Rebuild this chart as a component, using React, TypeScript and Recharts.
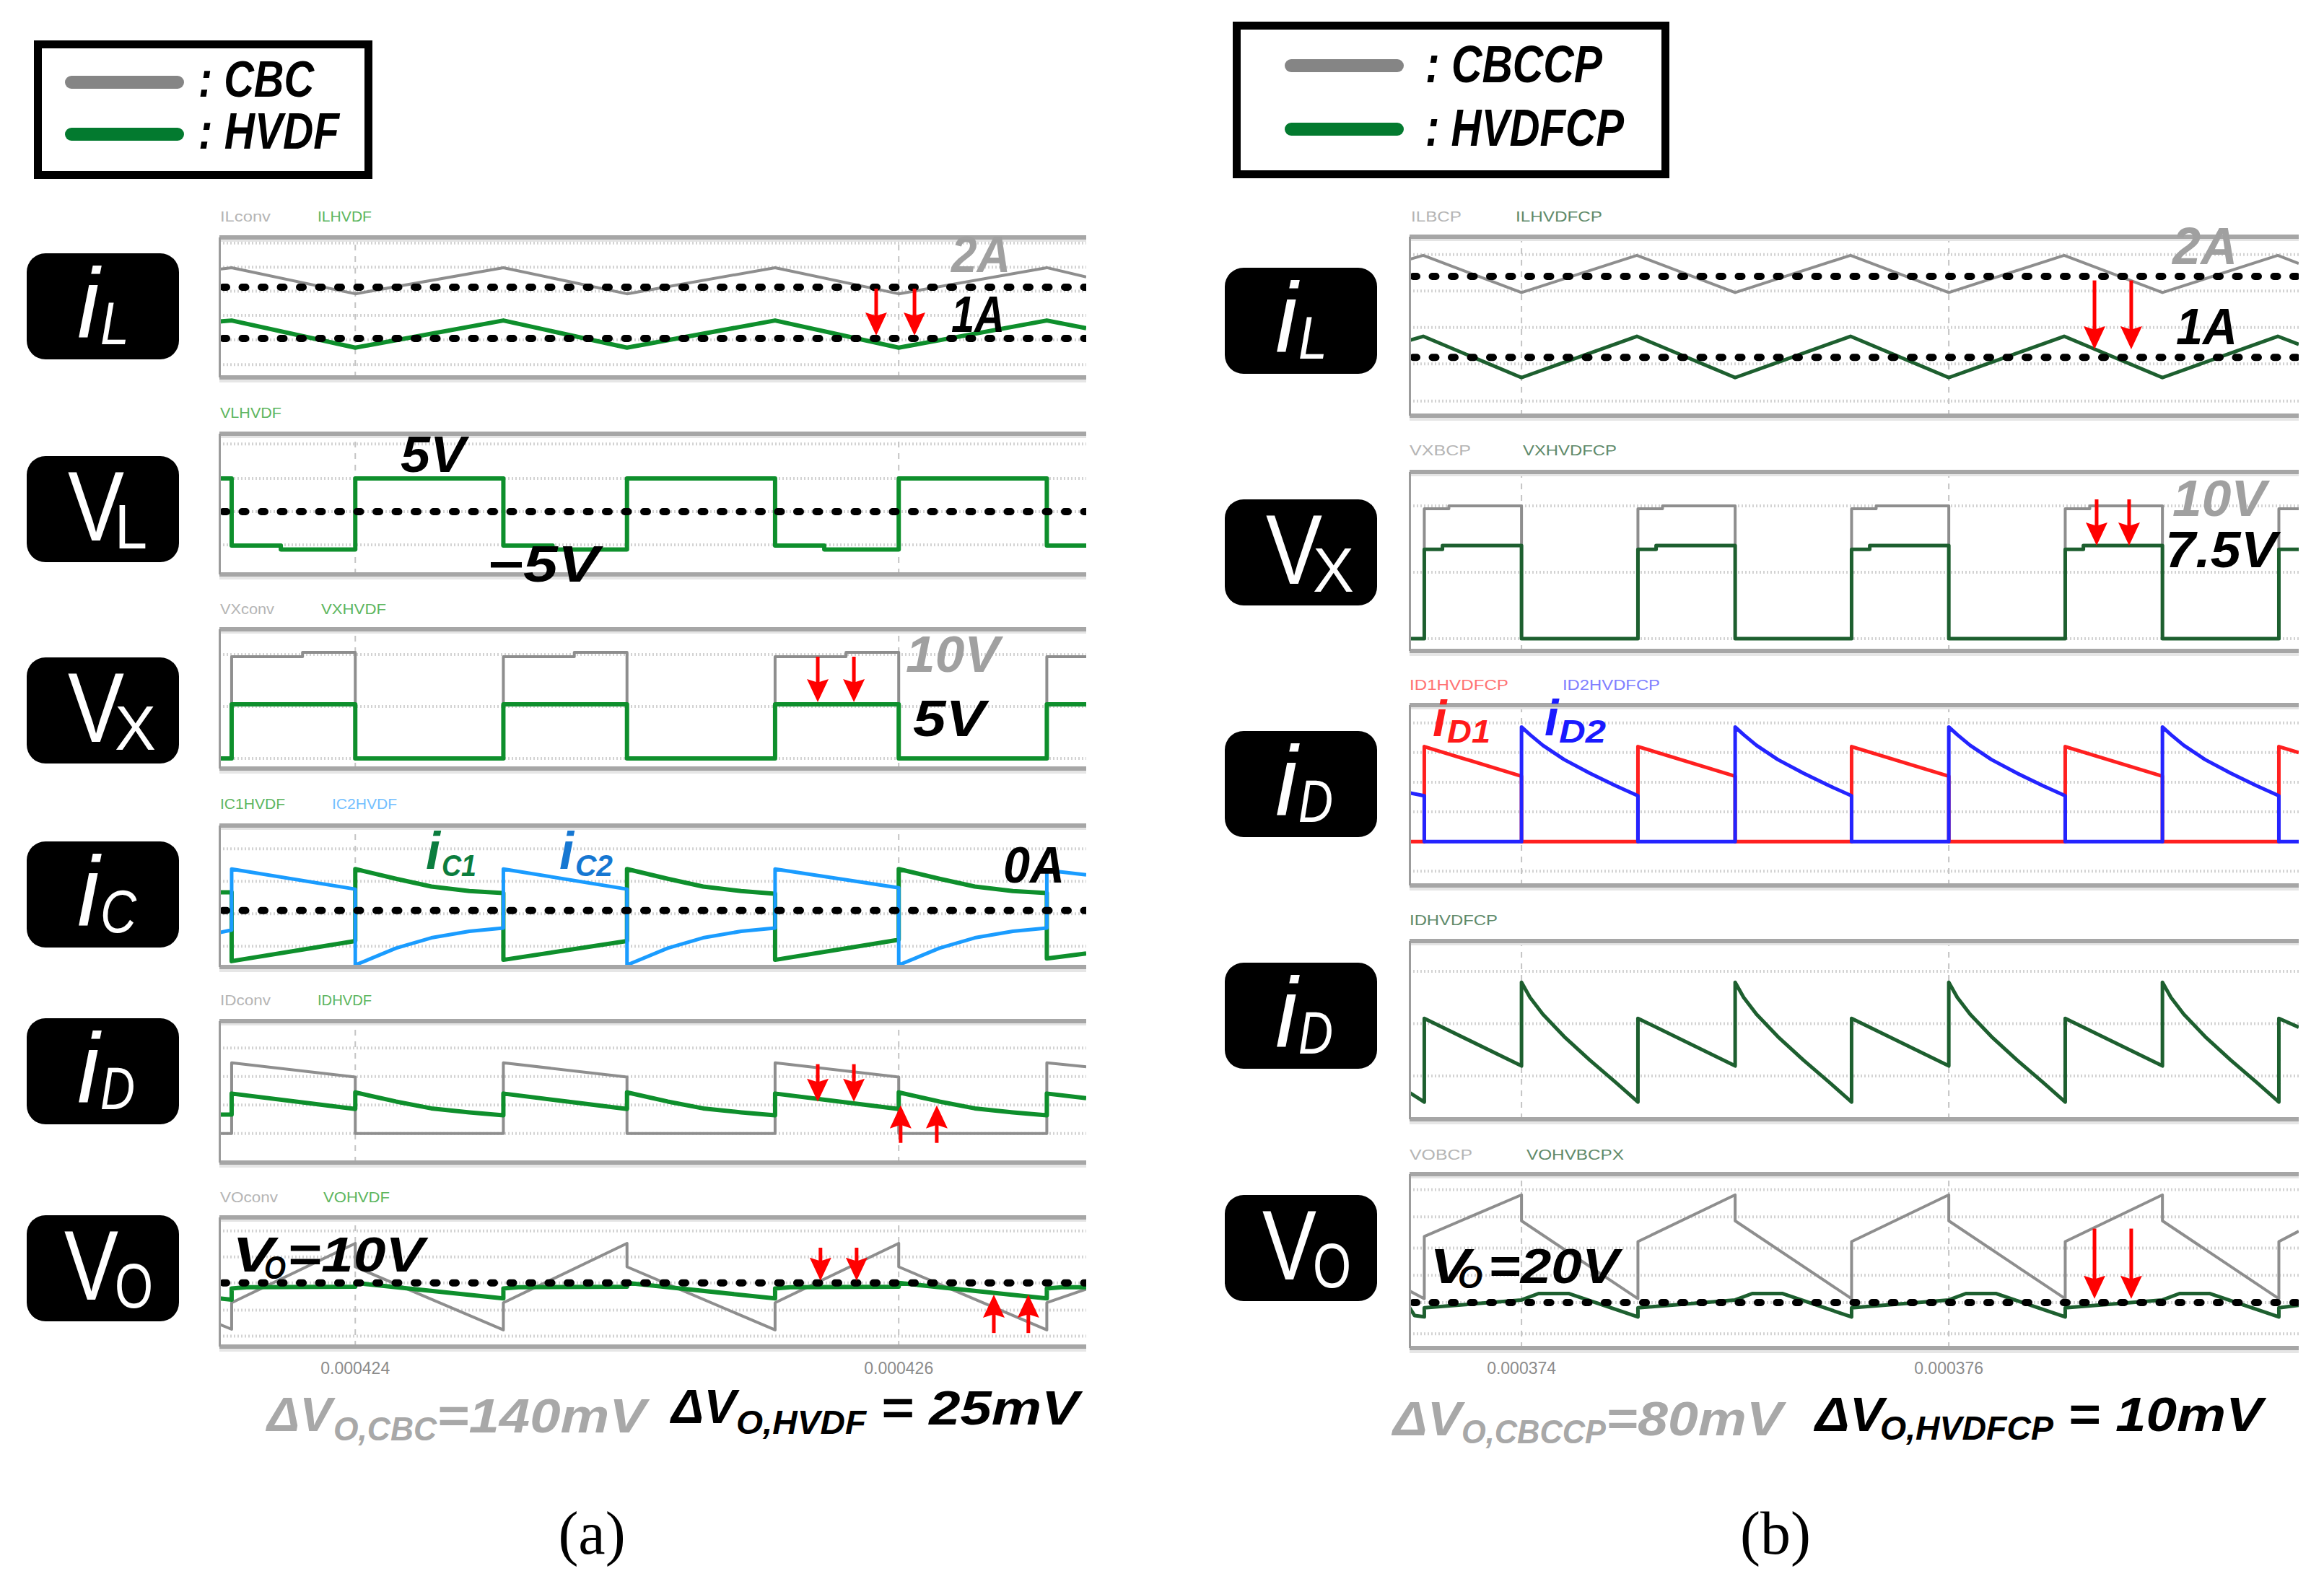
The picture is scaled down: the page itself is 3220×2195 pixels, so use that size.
import React from "react";
import { LineChart, Line, XAxis, YAxis, ReferenceLine } from "recharts";

type Pt = [number, number];

// ---------- time axes (µs) ----------
const timeA: [number, number] = [423.5, 426.69];
const timeB: [number, number] = [373.476, 377.638];
const ticksA = [424, 426];
const tickLabelsA = ["0.000424", "0.000426"];
const ticksB = [374, 376];
const tickLabelsB = ["0.000374", "0.000376"];

// ---------- (a) CBC vs HVDF ----------
const aIlCbc: Pt[] = [[423.5, 2.35], [423.545, 2.38], [424, 1.87], [424.545, 2.38], [425, 1.87], [425.545, 2.38], [426, 1.87], [426.545, 2.38], [426.69, 2.2]];
const aIlHvdf: Pt[] = [[423.5, 1.33], [423.545, 1.35], [424, 0.82], [424.545, 1.35], [425, 0.82], [425.545, 1.35], [426, 0.82], [426.545, 1.35], [426.69, 1.2]];

const aVlHvdf: Pt[] = [
  [423.5, 5], [423.545, 5], [423.545, -5.1], [423.726, -5.1], [423.726, -5.7], [424, -5.7],
  [424, 5], [424.545, 5], [424.545, -5.1], [424.726, -5.1], [424.726, -5.7], [425, -5.7],
  [425, 5], [425.545, 5], [425.545, -5.1], [425.726, -5.1], [425.726, -5.7], [426, -5.7],
  [426, 5], [426.545, 5], [426.545, -5.1], [426.69, -5.1],
];

const aVxCbc: Pt[] = [
  [423.5, 0], [423.545, 0], [423.545, 9.4], [423.806, 9.4], [423.806, 9.8], [424, 9.8],
  [424, 0], [424.545, 0], [424.545, 9.4], [424.806, 9.4], [424.806, 9.8], [425, 9.8],
  [425, 0], [425.545, 0], [425.545, 9.4], [425.806, 9.4], [425.806, 9.8], [426, 9.8],
  [426, 0], [426.545, 0], [426.545, 9.4], [426.69, 9.4],
];
const aVxHvdf: Pt[] = [
  [423.5, 0], [423.545, 0], [423.545, 5], [424, 5], [424, 0], [424.545, 0], [424.545, 5], [425, 5],
  [425, 0], [425.545, 0], [425.545, 5], [426, 5], [426, 0], [426.545, 0], [426.545, 5], [426.69, 5],
];

const aIc1: Pt[] = [
  [423.5, 0.28], [423.545, 0.28], [423.545, -0.78], [424, -0.47],
  [424, 0.64], [424.15, 0.49], [424.28, 0.37], [424.42, 0.3], [424.545, 0.27], [424.545, -0.76], [425, -0.47],
  [425, 0.64], [425.15, 0.49], [425.28, 0.37], [425.42, 0.3], [425.545, 0.26], [425.545, -0.76], [426, -0.45],
  [426, 0.64], [426.15, 0.49], [426.28, 0.37], [426.42, 0.3], [426.545, 0.27], [426.545, -0.74], [426.69, -0.66],
];
const aIc2: Pt[] = [
  [423.5, -0.34], [423.545, -0.3], [423.545, 0.64], [424, 0.33],
  [424, -0.84], [424.15, -0.58], [424.28, -0.42], [424.42, -0.32], [424.545, -0.27], [424.545, 0.64], [425, 0.33],
  [425, -0.84], [425.15, -0.58], [425.28, -0.42], [425.42, -0.32], [425.545, -0.27], [425.545, 0.64], [426, 0.35],
  [426, -0.84], [426.15, -0.58], [426.28, -0.42], [426.42, -0.32], [426.545, -0.27], [426.545, 0.62], [426.69, 0.55],
];

const aIdCbc: Pt[] = [
  [423.5, 0], [423.545, 0], [423.545, 1.24], [424, 0.99], [424, 0], [424.545, 0], [424.545, 1.24], [425, 0.99],
  [425, 0], [425.545, 0], [425.545, 1.24], [426, 0.99], [426, 0], [426.545, 0], [426.545, 1.24], [426.69, 1.17],
];
const aIdHvdf: Pt[] = [
  [423.5, 0.33], [423.545, 0.33], [423.545, 0.7], [424, 0.43],
  [424, 0.72], [424.15, 0.56], [424.28, 0.44], [424.42, 0.37], [424.545, 0.32], [424.545, 0.7], [425, 0.43],
  [425, 0.72], [425.15, 0.56], [425.28, 0.44], [425.42, 0.37], [425.545, 0.32], [425.545, 0.7], [426, 0.43],
  [426, 0.72], [426.15, 0.56], [426.28, 0.44], [426.42, 0.37], [426.545, 0.32], [426.545, 0.7], [426.69, 0.62],
];

const aVoCbc: Pt[] = [
  [423.5, 9.933], [423.545, 9.925], [423.545, 9.968], [424, 10.064], [424, 10.026], [424.545, 9.924],
  [424.545, 9.968], [425, 10.064], [425, 10.026], [425.545, 9.924], [425.545, 9.968], [426, 10.064],
  [426, 10.026], [426.545, 9.924], [426.545, 9.968], [426.69, 9.99],
];
const aVoHvdf: Pt[] = [
  [423.5, 9.975], [423.545, 9.973], [423.545, 9.991], [423.6, 9.993], [424, 9.994], [424, 10.0], [424.545, 9.975],
  [424.545, 9.991], [424.6, 9.993], [425, 9.994], [425, 10.0], [425.545, 9.975],
  [425.545, 9.991], [425.6, 9.993], [426, 9.994], [426, 10.0], [426.545, 9.975],
  [426.545, 9.991], [426.6, 9.993], [426.69, 9.993],
];

// ---------- (b) CBCCP vs HVDFCP ----------
const bIlCbc: Pt[] = [[373.476, 2.21], [373.54, 2.26], [374, 1.8], [374.54, 2.26], [375, 1.8], [375.54, 2.26], [376, 1.8], [376.54, 2.26], [377, 1.8], [377.54, 2.26], [377.638, 2.16]];
const bIlHvdf: Pt[] = [[373.476, 1.21], [373.54, 1.26], [374, 0.75], [374.54, 1.26], [375, 0.75], [375.54, 1.26], [376, 0.75], [376.54, 1.26], [377, 0.75], [377.54, 1.26], [377.638, 1.16]];

const bVxCbc: Pt[] = [
  [373.476, 0], [373.545, 0], [373.545, 10.47], [373.66, 10.47], [373.66, 10.7], [374, 10.7],
  [374, 0], [374.545, 0], [374.545, 10.47], [374.66, 10.47], [374.66, 10.7], [375, 10.7],
  [375, 0], [375.545, 0], [375.545, 10.47], [375.66, 10.47], [375.66, 10.7], [376, 10.7],
  [376, 0], [376.545, 0], [376.545, 10.47], [376.66, 10.47], [376.66, 10.7], [377, 10.7],
  [377, 0], [377.545, 0], [377.545, 10.47], [377.638, 10.47],
];
const bVxHvdf: Pt[] = [
  [373.476, 0], [373.545, 0], [373.545, 7.2], [373.63, 7.2], [373.63, 7.5], [374, 7.5],
  [374, 0], [374.545, 0], [374.545, 7.2], [374.63, 7.2], [374.63, 7.5], [375, 7.5],
  [375, 0], [375.545, 0], [375.545, 7.2], [375.63, 7.2], [375.63, 7.5], [376, 7.5],
  [376, 0], [376.545, 0], [376.545, 7.2], [376.63, 7.2], [376.63, 7.5], [377, 7.5],
  [377, 0], [377.545, 0], [377.545, 7.2], [377.638, 7.2],
];

const bId1: Pt[] = [
  [373.476, 0], [373.545, 0], [373.545, 1.6], [374, 1.1], [374, 0], [374.545, 0], [374.545, 1.6], [375, 1.1],
  [375, 0], [375.545, 0], [375.545, 1.6], [376, 1.1], [376, 0], [376.545, 0], [376.545, 1.6], [377, 1.1],
  [377, 0], [377.545, 0], [377.545, 1.6], [377.638, 1.5],
];
const bId2: Pt[] = [
  [373.476, 0.82], [373.545, 0.77], [373.545, 0], [374, 0],
  [374, 1.93], [374.04, 1.8], [374.1, 1.62], [374.2, 1.38], [374.32, 1.15], [374.44, 0.94], [374.545, 0.77], [374.545, 0], [375, 0],
  [375, 1.93], [375.04, 1.8], [375.1, 1.62], [375.2, 1.38], [375.32, 1.15], [375.44, 0.94], [375.545, 0.77], [375.545, 0], [376, 0],
  [376, 1.93], [376.04, 1.8], [376.1, 1.62], [376.2, 1.38], [376.32, 1.15], [376.44, 0.94], [376.545, 0.77], [376.545, 0], [377, 0],
  [377, 1.93], [377.04, 1.8], [377.1, 1.62], [377.2, 1.38], [377.32, 1.15], [377.44, 0.94], [377.545, 0.77], [377.545, 0], [377.638, 0],
];

const bId: Pt[] = [
  [373.476, 0.68], [373.545, 0.5], [373.545, 2.1], [374, 1.19],
  [374, 2.79], [374.04, 2.5], [374.1, 2.18], [374.2, 1.75], [374.32, 1.3], [374.44, 0.88], [374.545, 0.5], [374.545, 2.1], [375, 1.19],
  [375, 2.79], [375.04, 2.5], [375.1, 2.18], [375.2, 1.75], [375.32, 1.3], [375.44, 0.88], [375.545, 0.5], [375.545, 2.1], [376, 1.19],
  [376, 2.79], [376.04, 2.5], [376.1, 2.18], [376.2, 1.75], [376.32, 1.3], [376.44, 0.88], [376.545, 0.5], [376.545, 2.1], [377, 1.19],
  [377, 2.79], [377.04, 2.5], [377.1, 2.18], [377.2, 1.75], [377.32, 1.3], [377.44, 0.88], [377.545, 0.5], [377.545, 2.1], [377.638, 1.93],
];

const bVoCbc: Pt[] = [
  [373.476, 20.009], [373.545, 20.003], [373.545, 20.051], [374, 20.083], [374, 20.063], [374.545, 20.003],
  [374.545, 20.047], [375, 20.083], [375, 20.063], [375.545, 20.003], [375.545, 20.047], [376, 20.083],
  [376, 20.063], [376.545, 20.003], [376.545, 20.047], [377, 20.083], [377, 20.063], [377.545, 20.003],
  [377.545, 20.047], [377.638, 20.055],
];
const bVoHvdf: Pt[] = [
  [373.476, 19.996], [373.5, 19.99], [373.545, 19.989], [373.545, 19.996], [374, 20.002], [374.08, 20.007], [374.22, 20.007], [374.545, 19.989],
  [374.545, 19.996], [375, 20.002], [375.08, 20.007], [375.22, 20.007], [375.545, 19.989],
  [375.545, 19.996], [376, 20.002], [376.08, 20.007], [376.22, 20.007], [376.545, 19.989],
  [376.545, 19.996], [377, 20.002], [377.08, 20.007], [377.22, 20.007], [377.545, 19.989],
  [377.545, 19.996], [377.638, 19.998],
];

// ---------- styling ----------
const SANS = "'Liberation Sans', Arial, Helvetica, sans-serif";
const SERIF = "'Liberation Serif', 'Times New Roman', serif";
const GRAY = "#8e8e8e";
const GREEN_A = "#0e8f2c";
const GREEN_B = "#1d5f2f";
const BLUE_A = "#1a9cff";
const RED = "#ff2020";
const BLUE_B = "#2424ff";

interface Series { data: Pt[]; color: string; width: number }
interface Arrow { t: number; from: number; to: number }
interface Box { left: number; top: number; bottom: number; width: number }
interface PanelProps {
  box: Box;
  xDomain: [number, number];
  yDomain: [number, number];
  grid: number[];
  vgrid: number[];
  levels?: number[];
  series: Series[];
  arrows?: Arrow[];
  axis?: { values: number[]; labels: string[]; margin: number };
}

const toRows = (pts: Pt[]) => pts.map(([t, v]) => ({ t, v }));

const dotLine = (p: any) => (
  <line x1={p.x1 + 5} y1={p.y1} x2={p.x2 + 6} y2={p.y2} stroke="#000" strokeWidth={10} strokeDasharray="5 21.5" strokeLinecap="round" />
);

const arrowShape = (p: any) => {
  const { x1, y1, x2, y2 } = p;
  const dir = y2 > y1 ? 1 : -1;
  const hl = 32;
  const hw = 15;
  return (
    <g>
      <line x1={x1} y1={y1} x2={x2} y2={y2 - dir * hl * 0.8} stroke="#ff0000" strokeWidth={5} />
      <polygon
        points={`${x2 - hw},${y2 - dir * hl} ${x2},${y2 - dir * hl * 0.85} ${x2 + hw},${y2 - dir * hl} ${x2},${y2}`}
        fill="#ff0000"
      />
    </g>
  );
};

function Panel({ box, xDomain, yDomain, grid, vgrid, levels = [], series, arrows = [], axis }: PanelProps) {
  const h = box.bottom - box.top;
  const axisH = axis ? 50 : 0;
  return (
    <div style={{ position: "absolute", left: box.left, top: box.top, width: box.width, height: h + axisH }}>
      <LineChart width={box.width} height={h + axisH} margin={{ top: 0, right: 0, bottom: 0, left: 0 }}>
        <XAxis
          type="number"
          dataKey="t"
          domain={xDomain}
          allowDataOverflow
          hide={!axis}
          height={axisH}
          ticks={axis ? axis.values : undefined}
          interval={0}
          tickFormatter={(v: number) => (axis ? axis.labels[axis.values.indexOf(v)] ?? "" : "")}
          axisLine={false}
          tickLine={false}
          tickSize={0}
          tickMargin={axis ? axis.margin : 0}
          tick={{ fill: "#8c8c8c", fontSize: 23, fontFamily: SANS }}
        />
        <YAxis type="number" domain={yDomain} allowDataOverflow hide />
        {grid.map((g) => (
          <ReferenceLine key={"g" + g} y={g} stroke="#d3d3d3" strokeWidth={4} strokeDasharray="2 3" />
        ))}
        {vgrid.map((t) => (
          <ReferenceLine key={"v" + t} x={t} stroke="#c4c4c4" strokeWidth={2} strokeDasharray="8 8" />
        ))}
        {series.map((s, i) => (
          <Line
            key={i}
            data={toRows(s.data)}
            dataKey="v"
            type="linear"
            stroke={s.color}
            strokeWidth={s.width}
            strokeLinejoin="round"
            dot={false}
            activeDot={false}
            isAnimationActive={false}
          />
        ))}
        {levels.map((lv) => (
          <ReferenceLine key={"l" + lv} y={lv} shape={dotLine} />
        ))}
        {arrows.map((a, i) => (
          <ReferenceLine key={"a" + i} segment={[{ x: a.t, y: a.from }, { x: a.t, y: a.to }]} shape={arrowShape} />
        ))}
      </LineChart>
    </div>
  );
}

// ---------- layout ----------
const LA = 304, WA = 1201;
const LB = 1953, WB = 1232;
const boxA = [
  { left: LA, width: WA, top: 329, bottom: 523 },
  { left: LA, width: WA, top: 601, bottom: 796 },
  { left: LA, width: WA, top: 872, bottom: 1065 },
  { left: LA, width: WA, top: 1144, bottom: 1340 },
  { left: LA, width: WA, top: 1415, bottom: 1611 },
  { left: LA, width: WA, top: 1687, bottom: 1866 },
];
const boxB = [
  { left: LB, width: WB, top: 328, bottom: 576 },
  { left: LB, width: WB, top: 654, bottom: 902 },
  { left: LB, width: WB, top: 977, bottom: 1227 },
  { left: LB, width: WB, top: 1304, bottom: 1551 },
  { left: LB, width: WB, top: 1627, bottom: 1868 },
];

function Tx({ x, y, s, w, c = "#000", it = true, b = true, a, f = SANS, children }: any) {
  return (
    <text
      x={x}
      y={y}
      fontSize={s}
      fill={c}
      fontStyle={it ? "italic" : "normal"}
      fontWeight={b ? 700 : 400}
      fontFamily={f}
      textAnchor={a}
      textLength={w}
      lengthAdjust={w ? "spacingAndGlyphs" : undefined}
    >
      {children}
    </text>
  );
}

function Badge({ x, y, main, sub, italic, mx, mw, ms, sx, sw, sy, ss }: any) {
  return (
    <g>
      <rect x={x} y={y} width={211} height={147} rx={26} fill="#000" />
      <Tx x={x + mx} y={y + 117} s={ms} w={mw} c="#fff" it={italic} b={false}>{main}</Tx>
      <Tx x={x + sx} y={y + sy} s={ss} w={sw} c="#fff" it={italic} b={false}>{sub}</Tx>
    </g>
  );
}

const iBadge = { italic: true, mx: 70, mw: undefined, ms: 138, sx: 102, sy: 126, ss: 84 };
const vBadge = { italic: false, mx: 57, mw: 78, ms: 138, sx: 122, sy: 128, ss: 88 };

function Frame({ box }: { box: Box }) {
  return (
    <g>
      <rect x={box.left} y={box.top - 3} width={box.width} height={6} fill="#a6a6a6" />
      <rect x={box.left} y={box.top + 3} width={box.width} height={3} fill="#e4e4e4" />
      <rect x={box.left} y={box.bottom - 3} width={box.width} height={6} fill="#a6a6a6" />
      <rect x={box.left} y={box.bottom + 3} width={box.width} height={4} fill="#e6e6e6" />
      <rect x={box.left - 1} y={box.top} width={3} height={box.bottom - box.top} fill="#9c9c9c" />
    </g>
  );
}

function Tag({ x, y, w, c, children }: any) {
  return (
    <text x={x} y={y} fontSize={20} fill={c} fontFamily={SANS} textLength={w} lengthAdjust="spacingAndGlyphs">
      {children}
    </text>
  );
}

export default function App() {
  return (
    <div style={{ position: "absolute", left: 0, top: 0, width: 3220, height: 2195, background: "#fff", overflow: "hidden" }}>
      {/* ---- (a) ---- */}
      <Panel box={boxA[0]} xDomain={timeA} yDomain={[0.24, 2.97]} grid={[0.49, 0.97, 1.45, 1.92, 2.39, 2.86]} vgrid={ticksA}
        levels={[1, 2]} series={[{ data: aIlCbc, color: GRAY, width: 4 }, { data: aIlHvdf, color: GREEN_A, width: 6 }]}
        arrows={[{ t: 425.917, from: 1.97, to: 1.056 }, { t: 426.058, from: 1.97, to: 1.056 }]} />
      <Panel box={boxA[1]} xDomain={timeA} yDomain={[-9.46, 11.74]} grid={[-5, 0, 5, 10.2]} vgrid={ticksA}
        levels={[0]} series={[{ data: aVlHvdf, color: GREEN_A, width: 6 }]} />
      <Panel box={boxA[2]} xDomain={timeA} yDomain={[-0.93, 11.93]} grid={[0, 4.8, 9.6]} vgrid={ticksA}
        series={[{ data: aVxCbc, color: GRAY, width: 4 }, { data: aVxHvdf, color: GREEN_A, width: 6 }]}
        arrows={[{ t: 425.702, from: 9.4, to: 5.2 }, { t: 425.835, from: 9.4, to: 5.2 }]} />
      <Panel box={boxA[3]} xDomain={timeA} yDomain={[-0.87, 1.31]} grid={[-0.55, -0.05, 0.45, 0.95]} vgrid={ticksA}
        levels={[0]} series={[{ data: aIc1, color: GREEN_A, width: 6 }, { data: aIc2, color: BLUE_A, width: 5 }]} />
      <Panel box={boxA[4]} xDomain={timeA} yDomain={[-0.51, 1.97]} grid={[0, 0.5, 1.0, 1.5]} vgrid={ticksA}
        series={[{ data: aIdCbc, color: GRAY, width: 4 }, { data: aIdHvdf, color: GREEN_A, width: 6 }]}
        arrows={[
          { t: 425.702, from: 1.215, to: 0.557 }, { t: 425.835, from: 1.215, to: 0.557 },
          { t: 426.007, from: -0.165, to: 0.494 }, { t: 426.14, from: -0.165, to: 0.494 },
        ]} />
      <Panel box={boxA[5]} xDomain={timeA} yDomain={[9.897, 10.106]} grid={[9.914, 9.956, 10.0, 10.042, 10.084]} vgrid={ticksA}
        levels={[10]} series={[{ data: aVoCbc, color: GRAY, width: 4 }, { data: aVoHvdf, color: GREEN_A, width: 6 }]}
        arrows={[
          { t: 425.712, from: 10.057, to: 10.0035 }, { t: 425.845, from: 10.057, to: 10.0035 },
          { t: 426.35, from: 9.919, to: 9.981 }, { t: 426.477, from: 9.919, to: 9.981 },
        ]}
        axis={{ values: ticksA, labels: tickLabelsA, margin: 22 }} />

      {/* ---- (b) ---- */}
      <Panel box={boxB[0]} xDomain={timeB} yDomain={[0.28, 2.49]} grid={[0.46, 0.92, 1.37, 1.82, 2.27]} vgrid={ticksB}
        levels={[1, 2]} series={[{ data: bIlCbc, color: GRAY, width: 4 }, { data: bIlHvdf, color: GREEN_B, width: 5 }]}
        arrows={[{ t: 376.682, from: 1.95, to: 1.1 }, { t: 376.854, from: 1.95, to: 1.1 }]} />
      <Panel box={boxB[1]} xDomain={timeB} yDomain={[-0.99, 13.43]} grid={[0, 5.35, 10.7]} vgrid={ticksB}
        series={[{ data: bVxCbc, color: GRAY, width: 4 }, { data: bVxHvdf, color: GREEN_B, width: 5 }]}
        arrows={[{ t: 376.692, from: 11.22, to: 7.5 }, { t: 376.844, from: 11.22, to: 7.5 }]} />
      <Panel box={boxB[2]} xDomain={timeB} yDomain={[-0.74, 2.3]} grid={[-0.5, 0, 0.5, 1.0, 1.5, 2.0]} vgrid={ticksB}
        series={[{ data: bId1, color: RED, width: 5 }, { data: bId2, color: BLUE_B, width: 5 }]} />
      <Panel box={boxB[3]} xDomain={timeB} yDomain={[0.17, 3.58]} grid={[1, 2, 3]} vgrid={ticksB}
        series={[{ data: bId, color: GREEN_B, width: 5 }]} />
      <Panel box={boxB[4]} xDomain={timeB} yDomain={[19.965, 20.099]} grid={[19.976, 20.0, 20.021, 20.042, 20.066, 20.087]} vgrid={ticksB}
        levels={[20]} series={[{ data: bVoCbc, color: GRAY, width: 4 }, { data: bVoHvdf, color: GREEN_B, width: 5 }]}
        arrows={[{ t: 376.682, from: 20.057, to: 20.003 }, { t: 376.854, from: 20.057, to: 20.003 }]}
        axis={{ values: ticksB, labels: tickLabelsB, margin: 20 }} />

      <svg width={3220} height={2195} style={{ position: "absolute", left: 0, top: 0, pointerEvents: "none" }}>
        {boxA.map((b, i) => <Frame key={"fa" + i} box={b} />)}
        {boxB.map((b, i) => <Frame key={"fb" + i} box={b} />)}

        {/* legends */}
        <rect x={52.5} y={61.5} width={458} height={181} fill="none" stroke="#000" strokeWidth={11} />
        <line x1={99} y1={114} x2={246} y2={114} stroke="#858585" strokeWidth={18} strokeLinecap="round" />
        <line x1={99} y1={186} x2={246} y2={186} stroke="#037a2f" strokeWidth={18} strokeLinecap="round" />
        <Tx x={275} y={134} s={70} w={160}>: CBC</Tx>
        <Tx x={275} y={206} s={70} w={195}>: HVDF</Tx>

        <rect x={1713.5} y={35.5} width={594} height={206} fill="none" stroke="#000" strokeWidth={11} />
        <line x1={1789} y1={91} x2={1936} y2={91} stroke="#858585" strokeWidth={18} strokeLinecap="round" />
        <line x1={1789} y1={179} x2={1936} y2={179} stroke="#037a2f" strokeWidth={18} strokeLinecap="round" />
        <Tx x={1975} y={114} s={72} w={245}>: CBCCP</Tx>
        <Tx x={1975} y={202} s={72} w={275}>: HVDFCP</Tx>

        {/* series tags */}
        <Tag x={305} y={307} w={70} c="#b5b5b5">ILconv</Tag>
        <Tag x={440} y={307} w={75} c="#5db65f">ILHVDF</Tag>
        <Tag x={305} y={579} w={85} c="#5db65f">VLHVDF</Tag>
        <Tag x={305} y={851} w={75} c="#b5b5b5">VXconv</Tag>
        <Tag x={445} y={851} w={90} c="#5db65f">VXHVDF</Tag>
        <Tag x={305} y={1121} w={90} c="#5db65f">IC1HVDF</Tag>
        <Tag x={460} y={1121} w={90} c="#74bfff">IC2HVDF</Tag>
        <Tag x={305} y={1393} w={70} c="#b5b5b5">IDconv</Tag>
        <Tag x={440} y={1393} w={75} c="#5db65f">IDHVDF</Tag>
        <Tag x={305} y={1666} w={80} c="#b5b5b5">VOconv</Tag>
        <Tag x={448} y={1666} w={92} c="#5db65f">VOHVDF</Tag>

        <Tag x={1955} y={307} w={70} c="#b5b5b5">ILBCP</Tag>
        <Tag x={2100} y={307} w={120} c="#5f8a6a">ILHVDFCP</Tag>
        <Tag x={1953} y={631} w={85} c="#b5b5b5">VXBCP</Tag>
        <Tag x={2110} y={631} w={130} c="#5f8a6a">VXHVDFCP</Tag>
        <Tag x={1953} y={956} w={137} c="#ff7373">ID1HVDFCP</Tag>
        <Tag x={2165} y={956} w={135} c="#8080ff">ID2HVDFCP</Tag>
        <Tag x={1953} y={1282} w={122} c="#5f8a6a">IDHVDFCP</Tag>
        <Tag x={1953} y={1607} w={87} c="#b5b5b5">VOBCP</Tag>
        <Tag x={2115} y={1607} w={135} c="#5f8a6a">VOHVBCPX</Tag>

        {/* badges (a) */}
        <Badge x={37} y={351} main="i" sub="L" {...iBadge} sw={40} />
        <Badge x={37} y={632} main="V" sub="L" {...vBadge} sw={45} />
        <Badge x={37} y={911} main="V" sub="X" {...vBadge} sw={57} />
        <Badge x={37} y={1166} main="i" sub="C" {...iBadge} sw={50} />
        <Badge x={37} y={1411} main="i" sub="D" {...iBadge} sw={48} />
        <Badge x={37} y={1684} main="V" sub="O" {...vBadge} mx={52} mw={75} sw={53} />
        {/* badges (b) */}
        <Badge x={1697} y={371} main="i" sub="L" {...iBadge} sw={40} />
        <Badge x={1697} y={692} main="V" sub="X" {...vBadge} sw={57} />
        <Badge x={1697} y={1013} main="i" sub="D" {...iBadge} sw={48} />
        <Badge x={1697} y={1334} main="i" sub="D" {...iBadge} sw={48} />
        <Badge x={1697} y={1656} main="V" sub="O" {...vBadge} mx={52} mw={75} sw={53} />

        {/* annotations (a) */}
        <Tx x={1318} y={377} s={70} w={82} c="#a0a0a0">2A</Tx>
        <Tx x={1318} y={460} s={70} w={74}>1A</Tx>
        <Tx x={555} y={654} s={70} w={90}>5V</Tx>
        <Tx x={675} y={806} s={70} w={155}>−5V</Tx>
        <Tx x={1255} y={931} s={70} w={130} c="#a0a0a0">10V</Tx>
        <Tx x={1265} y={1020} s={70} w={100}>5V</Tx>
        <Tx x={590} y={1204} s={72} c="#0b7d3e">i</Tx>
        <Tx x={612} y={1214} s={42} w={48} c="#0b7d3e">C1</Tx>
        <Tx x={775} y={1204} s={72} c="#1677d2">i</Tx>
        <Tx x={797} y={1214} s={42} w={52} c="#1677d2">C2</Tx>
        <Tx x={1390} y={1223} s={70} w={85}>0A</Tx>
        <Tx x={322} y={1762} s={69} w={58}>V</Tx>
        <Tx x={366} y={1772} s={44} w={30}>O</Tx>
        <Tx x={398} y={1762} s={69} w={190}>=10V</Tx>
        <Tx x={370} y={1983} s={67} w={90} c="#a8a8a8">ΔV</Tx>
        <Tx x={462} y={1996} s={46} w={143} c="#a8a8a8">O,CBC</Tx>
        <Tx x={605} y={1985} s={67} w={290} c="#a8a8a8">=140mV</Tx>
        <Tx x={930} y={1972} s={67} w={90}>ΔV</Tx>
        <Tx x={1020} y={1987} s={46} w={180}>O,HVDF</Tx>
        <Tx x={1220} y={1974} s={67} w={275}>= 25mV</Tx>
        <Tx x={820} y={2153} s={84} a="middle" it={false} b={false} f={SERIF}>(a)</Tx>

        {/* annotations (b) */}
        <Tx x={3010} y={366} s={72} w={90} c="#a0a0a0">2A</Tx>
        <Tx x={3015} y={477} s={70} w={85}>1A</Tx>
        <Tx x={3010} y={715} s={70} w={130} c="#a0a0a0">10V</Tx>
        <Tx x={3000} y={786} s={70} w={155}>7.5V</Tx>
        <Tx x={1985} y={1020} s={70} c="#ff1a1a">i</Tx>
        <Tx x={2005} y={1029} s={44} w={60} c="#ff1a1a">D1</Tx>
        <Tx x={2140} y={1019} s={70} c="#1a1aff">i</Tx>
        <Tx x={2160} y={1029} s={44} w={65} c="#1a1aff">D2</Tx>
        <Tx x={1981} y={1778} s={69} w={56}>V</Tx>
        <Tx x={2020} y={1785} s={44} w={34}>O</Tx>
        <Tx x={2062} y={1778} s={69} w={181}>=20V</Tx>
        <Tx x={1930} y={1989} s={67} w={95} c="#a8a8a8">ΔV</Tx>
        <Tx x={2025} y={2000} s={46} w={200} c="#a8a8a8">O,CBCCP</Tx>
        <Tx x={2225} y={1989} s={67} w={245} c="#a8a8a8">=80mV</Tx>
        <Tx x={2515} y={1983} s={67} w={95}>ΔV</Tx>
        <Tx x={2605} y={1995} s={46} w={240}>O,HVDFCP</Tx>
        <Tx x={2865} y={1983} s={67} w={270}>= 10mV</Tx>
        <Tx x={2460} y={2153} s={84} a="middle" it={false} b={false} f={SERIF}>(b)</Tx>
      </svg>
    </div>
  );
}
